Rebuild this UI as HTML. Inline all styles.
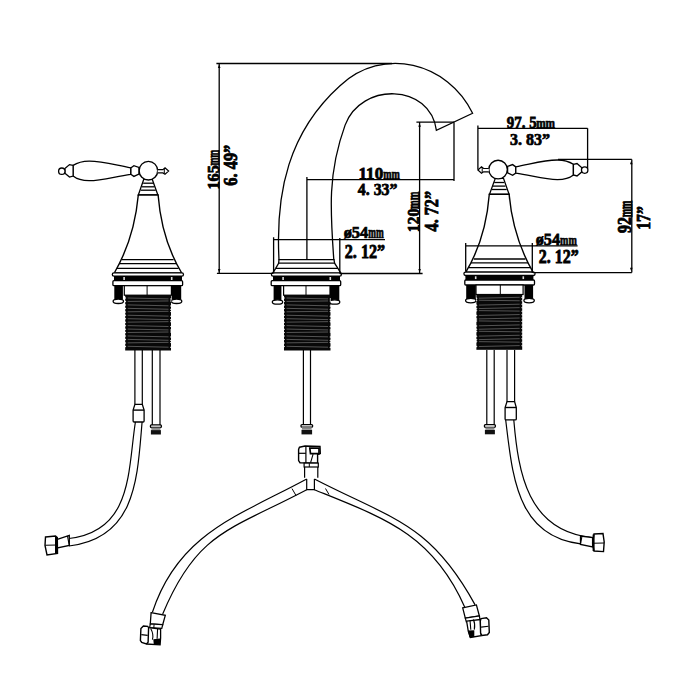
<!DOCTYPE html>
<html><head><meta charset="utf-8"><style>
html,body{margin:0;padding:0;background:#fff;}
svg{display:block;opacity:0.999;}
text{font-family:"Liberation Serif",serif;font-weight:bold;fill:#000;}
</style></head><body>
<svg width="700" height="700" viewBox="0 0 700 700">
<rect width="700" height="700" fill="#fff"/>

<path d="M143.9,179 L152.1,179 L157.9,195 L138.3,195 Z" fill="#fff" stroke="#000" stroke-width="1.3"/>
<line x1="143.2" y1="183.2" x2="153.2" y2="183.2" stroke="#000" stroke-width="1.3"/>
<line x1="142" y1="186.8" x2="154.4" y2="186.8" stroke="#000" stroke-width="1.3"/>
<line x1="140.7" y1="190.2" x2="155.7" y2="190.2" stroke="#000" stroke-width="1.3"/>
<path d="M138.3,195 C135.5,226 127,251 114.3,273 L181.7,273 C168.5,251 160.5,226 158.1,195 Z" fill="#fff" stroke="#000" stroke-width="1.4"/>
<line x1="122" y1="259.7" x2="173.6" y2="259.7" stroke="#000" stroke-width="1.3"/>
<line x1="119.3" y1="263.6" x2="176.4" y2="263.6" stroke="#000" stroke-width="1.3"/>
<line x1="117" y1="268.3" x2="178.6" y2="268.3" stroke="#000" stroke-width="1.3"/>
<rect x="112.3" y="272.8" width="71.2" height="3.4" rx="1.7" fill="#fff" stroke="#000" stroke-width="1.3"/>
<rect x="114" y="276" width="68" height="4.8" fill="#000"/>
<rect x="123.3" y="277" width="1.6" height="3" fill="#ddd"/>
<rect x="170.9" y="277" width="1.6" height="3" fill="#ddd"/>
<rect x="112.9" y="280.7" width="69.7" height="5" rx="1" fill="#fff" stroke="#000" stroke-width="1.3"/>
<rect x="114.3" y="285.7" width="8.6" height="15.5" fill="#000"/>
<rect x="171.6" y="285.7" width="9.6" height="15.5" fill="#000"/>
<ellipse cx="118.3" cy="301.3" rx="5.2" ry="2.2" fill="#fff" stroke="#000" stroke-width="1.3"/>
<ellipse cx="176.6" cy="301.3" rx="5.2" ry="2.2" fill="#fff" stroke="#000" stroke-width="1.3"/>
<rect x="124.3" y="285.7" width="47.1" height="9.5" fill="#fff" stroke="#000" stroke-width="1.2"/>
<line x1="147.1" y1="285.7" x2="147.1" y2="295" stroke="#000" stroke-width="1"/>
<rect x="125.2" y="295" width="45.8" height="55.5" fill="#080808"/><line x1="127.7" y1="298.00" x2="168.5" y2="298.90" stroke="#5c5c5c" stroke-width="0.9"/><path d="M124.9,297.10 L126.3,298.10 L124.9,299.10 Z" fill="#fff"/><path d="M171.3,298.00 L169.9,299.00 L171.3,300.00 Z" fill="#fff"/><line x1="127.7" y1="301.45" x2="168.5" y2="300.95" stroke="#5c5c5c" stroke-width="0.9"/><path d="M124.9,300.55 L126.3,301.55 L124.9,302.55 Z" fill="#fff"/><path d="M171.3,300.05 L169.9,301.05 L171.3,302.05 Z" fill="#fff"/><line x1="127.7" y1="304.90" x2="168.5" y2="305.80" stroke="#5c5c5c" stroke-width="0.9"/><path d="M124.9,304.00 L126.3,305.00 L124.9,306.00 Z" fill="#fff"/><path d="M171.3,304.90 L169.9,305.90 L171.3,306.90 Z" fill="#fff"/><line x1="127.7" y1="308.35" x2="168.5" y2="309.25" stroke="#5c5c5c" stroke-width="0.9"/><path d="M124.9,307.45 L126.3,308.45 L124.9,309.45 Z" fill="#fff"/><path d="M171.3,308.35 L169.9,309.35 L171.3,310.35 Z" fill="#fff"/><line x1="127.7" y1="311.80" x2="168.5" y2="311.30" stroke="#5c5c5c" stroke-width="0.9"/><path d="M124.9,310.90 L126.3,311.90 L124.9,312.90 Z" fill="#fff"/><path d="M171.3,310.40 L169.9,311.40 L171.3,312.40 Z" fill="#fff"/><line x1="127.7" y1="315.25" x2="168.5" y2="316.15" stroke="#5c5c5c" stroke-width="0.9"/><path d="M124.9,314.35 L126.3,315.35 L124.9,316.35 Z" fill="#fff"/><path d="M171.3,315.25 L169.9,316.25 L171.3,317.25 Z" fill="#fff"/><line x1="127.7" y1="318.70" x2="168.5" y2="319.60" stroke="#5c5c5c" stroke-width="0.9"/><path d="M124.9,317.80 L126.3,318.80 L124.9,319.80 Z" fill="#fff"/><path d="M171.3,318.70 L169.9,319.70 L171.3,320.70 Z" fill="#fff"/><line x1="127.7" y1="322.15" x2="168.5" y2="321.65" stroke="#5c5c5c" stroke-width="0.9"/><path d="M124.9,321.25 L126.3,322.25 L124.9,323.25 Z" fill="#fff"/><path d="M171.3,320.75 L169.9,321.75 L171.3,322.75 Z" fill="#fff"/><line x1="127.7" y1="325.60" x2="168.5" y2="326.50" stroke="#5c5c5c" stroke-width="0.9"/><path d="M124.9,324.70 L126.3,325.70 L124.9,326.70 Z" fill="#fff"/><path d="M171.3,325.60 L169.9,326.60 L171.3,327.60 Z" fill="#fff"/><line x1="127.7" y1="329.05" x2="168.5" y2="329.95" stroke="#5c5c5c" stroke-width="0.9"/><path d="M124.9,328.15 L126.3,329.15 L124.9,330.15 Z" fill="#fff"/><path d="M171.3,329.05 L169.9,330.05 L171.3,331.05 Z" fill="#fff"/><line x1="127.7" y1="332.50" x2="168.5" y2="332.00" stroke="#5c5c5c" stroke-width="0.9"/><path d="M124.9,331.60 L126.3,332.60 L124.9,333.60 Z" fill="#fff"/><path d="M171.3,331.10 L169.9,332.10 L171.3,333.10 Z" fill="#fff"/><line x1="127.7" y1="335.95" x2="168.5" y2="336.85" stroke="#5c5c5c" stroke-width="0.9"/><path d="M124.9,335.05 L126.3,336.05 L124.9,337.05 Z" fill="#fff"/><path d="M171.3,335.95 L169.9,336.95 L171.3,337.95 Z" fill="#fff"/><line x1="127.7" y1="339.40" x2="168.5" y2="340.30" stroke="#5c5c5c" stroke-width="0.9"/><path d="M124.9,338.50 L126.3,339.50 L124.9,340.50 Z" fill="#fff"/><path d="M171.3,339.40 L169.9,340.40 L171.3,341.40 Z" fill="#fff"/><line x1="127.7" y1="342.85" x2="168.5" y2="342.35" stroke="#5c5c5c" stroke-width="0.9"/><path d="M124.9,341.95 L126.3,342.95 L124.9,343.95 Z" fill="#fff"/><path d="M171.3,341.45 L169.9,342.45 L171.3,343.45 Z" fill="#fff"/><line x1="127.7" y1="346.30" x2="168.5" y2="347.20" stroke="#5c5c5c" stroke-width="0.9"/><path d="M124.9,345.40 L126.3,346.40 L124.9,347.40 Z" fill="#fff"/><path d="M171.3,346.30 L169.9,347.30 L171.3,348.30 Z" fill="#fff"/>
<circle cx="148.4" cy="170.7" r="9.3" fill="#fff" stroke="#000" stroke-width="1.4"/>
<path d="M157.7,169.6 L162.9,169.6 L165,167.9 L168.6,171.1 L165,174.3 L162.9,172.9 L157.7,172.9" fill="#fff" stroke="#000" stroke-width="1.2"/>
<line x1="164.3" y1="168.5" x2="164.3" y2="173.7" stroke="#000" stroke-width="1"/>
<path d="M130.7,168 L133.9,165.7 L138.9,167.5 L138.9,174 L133.9,176.4 L130.7,174.2 Z" fill="#fff" stroke="#000" stroke-width="1.3"/>
<path d="M130.7,167.9 C115,165 102,161 89.1,161.1 C81,161.2 76,163.5 73.1,165.4 L73.1,176.1 C76,178.5 81,180.7 89.1,180.7 C102,180.7 115,176.5 130.7,174.3 Z" fill="#fff" stroke="#000" stroke-width="1.3"/>
<path d="M73.1,165.4 L69.5,164.6 L64.9,168.6 L64.9,173.2 L69.5,177.1 L73.1,176.1 Z" fill="#fff" stroke="#000" stroke-width="1.3"/>
<circle cx="61.8" cy="171.2" r="3.2" fill="#fff" stroke="#000" stroke-width="1.3"/>

<g transform="translate(647.4,-0.7) scale(-1,1)">
<path d="M143.9,179 L152.1,179 L157.9,195 L138.3,195 Z" fill="#fff" stroke="#000" stroke-width="1.3"/>
<line x1="143.2" y1="183.2" x2="153.2" y2="183.2" stroke="#000" stroke-width="1.3"/>
<line x1="142" y1="186.8" x2="154.4" y2="186.8" stroke="#000" stroke-width="1.3"/>
<line x1="140.7" y1="190.2" x2="155.7" y2="190.2" stroke="#000" stroke-width="1.3"/>
<path d="M138.3,195 C135.5,226 127,251 114.3,273 L181.7,273 C168.5,251 160.5,226 158.1,195 Z" fill="#fff" stroke="#000" stroke-width="1.4"/>
<line x1="122" y1="259.7" x2="173.6" y2="259.7" stroke="#000" stroke-width="1.3"/>
<line x1="119.3" y1="263.6" x2="176.4" y2="263.6" stroke="#000" stroke-width="1.3"/>
<line x1="117" y1="268.3" x2="178.6" y2="268.3" stroke="#000" stroke-width="1.3"/>
<rect x="112.3" y="272.8" width="71.2" height="3.4" rx="1.7" fill="#fff" stroke="#000" stroke-width="1.3"/>
<rect x="114" y="276" width="68" height="4.8" fill="#000"/>
<rect x="123.3" y="277" width="1.6" height="3" fill="#ddd"/>
<rect x="170.9" y="277" width="1.6" height="3" fill="#ddd"/>
<rect x="112.9" y="280.7" width="69.7" height="5" rx="1" fill="#fff" stroke="#000" stroke-width="1.3"/>
<rect x="114.3" y="285.7" width="8.6" height="15.5" fill="#000"/>
<rect x="171.6" y="285.7" width="9.6" height="15.5" fill="#000"/>
<ellipse cx="118.3" cy="301.3" rx="5.2" ry="2.2" fill="#fff" stroke="#000" stroke-width="1.3"/>
<ellipse cx="176.6" cy="301.3" rx="5.2" ry="2.2" fill="#fff" stroke="#000" stroke-width="1.3"/>
<rect x="124.3" y="285.7" width="47.1" height="9.5" fill="#fff" stroke="#000" stroke-width="1.2"/>
<line x1="147.1" y1="285.7" x2="147.1" y2="295" stroke="#000" stroke-width="1"/>
<rect x="125.2" y="295" width="45.8" height="55.5" fill="#080808"/><line x1="127.7" y1="298.00" x2="168.5" y2="298.90" stroke="#5c5c5c" stroke-width="0.9"/><path d="M124.9,297.10 L126.3,298.10 L124.9,299.10 Z" fill="#fff"/><path d="M171.3,298.00 L169.9,299.00 L171.3,300.00 Z" fill="#fff"/><line x1="127.7" y1="301.45" x2="168.5" y2="300.95" stroke="#5c5c5c" stroke-width="0.9"/><path d="M124.9,300.55 L126.3,301.55 L124.9,302.55 Z" fill="#fff"/><path d="M171.3,300.05 L169.9,301.05 L171.3,302.05 Z" fill="#fff"/><line x1="127.7" y1="304.90" x2="168.5" y2="305.80" stroke="#5c5c5c" stroke-width="0.9"/><path d="M124.9,304.00 L126.3,305.00 L124.9,306.00 Z" fill="#fff"/><path d="M171.3,304.90 L169.9,305.90 L171.3,306.90 Z" fill="#fff"/><line x1="127.7" y1="308.35" x2="168.5" y2="309.25" stroke="#5c5c5c" stroke-width="0.9"/><path d="M124.9,307.45 L126.3,308.45 L124.9,309.45 Z" fill="#fff"/><path d="M171.3,308.35 L169.9,309.35 L171.3,310.35 Z" fill="#fff"/><line x1="127.7" y1="311.80" x2="168.5" y2="311.30" stroke="#5c5c5c" stroke-width="0.9"/><path d="M124.9,310.90 L126.3,311.90 L124.9,312.90 Z" fill="#fff"/><path d="M171.3,310.40 L169.9,311.40 L171.3,312.40 Z" fill="#fff"/><line x1="127.7" y1="315.25" x2="168.5" y2="316.15" stroke="#5c5c5c" stroke-width="0.9"/><path d="M124.9,314.35 L126.3,315.35 L124.9,316.35 Z" fill="#fff"/><path d="M171.3,315.25 L169.9,316.25 L171.3,317.25 Z" fill="#fff"/><line x1="127.7" y1="318.70" x2="168.5" y2="319.60" stroke="#5c5c5c" stroke-width="0.9"/><path d="M124.9,317.80 L126.3,318.80 L124.9,319.80 Z" fill="#fff"/><path d="M171.3,318.70 L169.9,319.70 L171.3,320.70 Z" fill="#fff"/><line x1="127.7" y1="322.15" x2="168.5" y2="321.65" stroke="#5c5c5c" stroke-width="0.9"/><path d="M124.9,321.25 L126.3,322.25 L124.9,323.25 Z" fill="#fff"/><path d="M171.3,320.75 L169.9,321.75 L171.3,322.75 Z" fill="#fff"/><line x1="127.7" y1="325.60" x2="168.5" y2="326.50" stroke="#5c5c5c" stroke-width="0.9"/><path d="M124.9,324.70 L126.3,325.70 L124.9,326.70 Z" fill="#fff"/><path d="M171.3,325.60 L169.9,326.60 L171.3,327.60 Z" fill="#fff"/><line x1="127.7" y1="329.05" x2="168.5" y2="329.95" stroke="#5c5c5c" stroke-width="0.9"/><path d="M124.9,328.15 L126.3,329.15 L124.9,330.15 Z" fill="#fff"/><path d="M171.3,329.05 L169.9,330.05 L171.3,331.05 Z" fill="#fff"/><line x1="127.7" y1="332.50" x2="168.5" y2="332.00" stroke="#5c5c5c" stroke-width="0.9"/><path d="M124.9,331.60 L126.3,332.60 L124.9,333.60 Z" fill="#fff"/><path d="M171.3,331.10 L169.9,332.10 L171.3,333.10 Z" fill="#fff"/><line x1="127.7" y1="335.95" x2="168.5" y2="336.85" stroke="#5c5c5c" stroke-width="0.9"/><path d="M124.9,335.05 L126.3,336.05 L124.9,337.05 Z" fill="#fff"/><path d="M171.3,335.95 L169.9,336.95 L171.3,337.95 Z" fill="#fff"/><line x1="127.7" y1="339.40" x2="168.5" y2="340.30" stroke="#5c5c5c" stroke-width="0.9"/><path d="M124.9,338.50 L126.3,339.50 L124.9,340.50 Z" fill="#fff"/><path d="M171.3,339.40 L169.9,340.40 L171.3,341.40 Z" fill="#fff"/><line x1="127.7" y1="342.85" x2="168.5" y2="342.35" stroke="#5c5c5c" stroke-width="0.9"/><path d="M124.9,341.95 L126.3,342.95 L124.9,343.95 Z" fill="#fff"/><path d="M171.3,341.45 L169.9,342.45 L171.3,343.45 Z" fill="#fff"/><line x1="127.7" y1="346.30" x2="168.5" y2="347.20" stroke="#5c5c5c" stroke-width="0.9"/><path d="M124.9,345.40 L126.3,346.40 L124.9,347.40 Z" fill="#fff"/><path d="M171.3,346.30 L169.9,347.30 L171.3,348.30 Z" fill="#fff"/></g>
<g transform="translate(646.5,-1.1) scale(-1,1)">
<circle cx="148.4" cy="170.7" r="9.3" fill="#fff" stroke="#000" stroke-width="1.4"/>
<path d="M157.7,169.6 L162.9,169.6 L165,167.9 L168.6,171.1 L165,174.3 L162.9,172.9 L157.7,172.9" fill="#fff" stroke="#000" stroke-width="1.2"/>
<line x1="164.3" y1="168.5" x2="164.3" y2="173.7" stroke="#000" stroke-width="1"/>
<path d="M130.7,168 L133.9,165.7 L138.9,167.5 L138.9,174 L133.9,176.4 L130.7,174.2 Z" fill="#fff" stroke="#000" stroke-width="1.3"/>
<path d="M130.7,167.9 C115,165 102,161 89.1,161.1 C81,161.2 76,163.5 73.1,165.4 L73.1,176.1 C76,178.5 81,180.7 89.1,180.7 C102,180.7 115,176.5 130.7,174.3 Z" fill="#fff" stroke="#000" stroke-width="1.3"/>
<path d="M73.1,165.4 L69.5,164.6 L64.9,168.6 L64.9,173.2 L69.5,177.1 L73.1,176.1 Z" fill="#fff" stroke="#000" stroke-width="1.3"/>
<circle cx="61.8" cy="171.2" r="3.2" fill="#fff" stroke="#000" stroke-width="1.3"/>
</g>
<path d="M134.9,350 L134.9,404.3 M142.3,350 L142.3,404.3" stroke="#000" stroke-width="1.2" fill="none"/><path d="M134.9,404.3 L142.3,404.3 L144.1,410.1 L144.1,421 Q144.1,422 143.1,422 L134.1,422 Q133.1,422 133.1,421 L133.1,410.1 Z" fill="#fff" stroke="#000" stroke-width="1.3"/><path d="M133.1,410.1 L144.1,410.1" stroke="#000" stroke-width="1.4" fill="none"/><path d="M152.3,350 L152.3,424.9 M160.0,350 L160.0,424.9" stroke="#000" stroke-width="1.2" fill="none"/><rect x="150.4" y="424.9" width="11.0" height="2.6" rx="1" fill="#fff" stroke="#000" stroke-width="1.3"/><rect x="151.4" y="427.5" width="9.0" height="2.4" fill="#888"/><rect x="150.9" y="430.09999999999997" width="10.0" height="4.4" fill="#111"/>
<path d="M507.0,350 L507.0,401.6 M514.6,350 L514.6,401.6" stroke="#000" stroke-width="1.2" fill="none"/><path d="M507.0,401.6 L514.6,401.6 L516.3,407.5 L516.3,418.9 Q516.3,419.9 515.3,419.9 L506.1,419.9 Q505.1,419.9 505.1,418.9 L505.1,407.5 Z" fill="#fff" stroke="#000" stroke-width="1.3"/><path d="M505.1,407.5 L516.3,407.5" stroke="#000" stroke-width="1.4" fill="none"/><path d="M486.8,350 L486.8,424.7 M494.2,350 L494.2,424.7" stroke="#000" stroke-width="1.2" fill="none"/><rect x="484.4" y="424.7" width="11.0" height="2.6" rx="1" fill="#fff" stroke="#000" stroke-width="1.3"/><rect x="485.4" y="427.3" width="9.0" height="2.4" fill="#888"/><rect x="484.9" y="429.9" width="10.0" height="4.4" fill="#111"/>

<path d="M279,259.6 C275.4,191.9 288.8,131.9 340,85.7 C382.8,45.5 448.1,62.6 472.6,113.3 L436.4,130.4 C430.2,83 360.8,82 345.1,125.1 C327.7,172.9 330.2,210 333.8,259.6 Z" fill="#fff" stroke="#000" stroke-width="1.3"/>
<path d="M279,259.6 L334,259.6 L334.6,263.2 L337.9,268.3 L341,273.3 L272.5,273.3 L275.7,268.3 L278.6,263.2 Z" fill="#fff" stroke="#000" stroke-width="1.3"/>
<line x1="278.6" y1="263.2" x2="334.6" y2="263.2" stroke="#000" stroke-width="1.2"/>
<line x1="275.7" y1="268.3" x2="337.9" y2="268.3" stroke="#000" stroke-width="1.2"/>
<rect x="271.4" y="272.8" width="70" height="3.4" rx="1.7" fill="#fff" stroke="#000" stroke-width="1.3"/>
<rect x="273" y="276" width="67" height="4.8" fill="#000"/>
<rect x="282.3" y="277" width="1.6" height="3" fill="#ddd"/>
<rect x="329.5" y="277" width="1.6" height="3" fill="#ddd"/>
<rect x="271.2" y="280.7" width="69.5" height="5" rx="1" fill="#fff" stroke="#000" stroke-width="1.3"/>
<rect x="273.6" y="285.7" width="7.8" height="16" fill="#000"/>
<rect x="330" y="285.7" width="9.3" height="16" fill="#000"/>
<ellipse cx="277.5" cy="302" rx="5.2" ry="2.2" fill="#fff" stroke="#000" stroke-width="1.3"/>
<ellipse cx="334.6" cy="302" rx="5.2" ry="2.2" fill="#fff" stroke="#000" stroke-width="1.3"/>
<rect x="283.6" y="285.7" width="46.4" height="9.5" fill="#fff" stroke="#000" stroke-width="1.2"/>
<line x1="306" y1="285.7" x2="306" y2="295" stroke="#000" stroke-width="1"/>
<rect x="284" y="295" width="46.5" height="55.5" fill="#080808"/><line x1="286.5" y1="298.00" x2="328.0" y2="298.90" stroke="#5c5c5c" stroke-width="0.9"/><path d="M283.7,297.10 L285.1,298.10 L283.7,299.10 Z" fill="#fff"/><path d="M330.8,298.00 L329.4,299.00 L330.8,300.00 Z" fill="#fff"/><line x1="286.5" y1="301.45" x2="328.0" y2="300.95" stroke="#5c5c5c" stroke-width="0.9"/><path d="M283.7,300.55 L285.1,301.55 L283.7,302.55 Z" fill="#fff"/><path d="M330.8,300.05 L329.4,301.05 L330.8,302.05 Z" fill="#fff"/><line x1="286.5" y1="304.90" x2="328.0" y2="305.80" stroke="#5c5c5c" stroke-width="0.9"/><path d="M283.7,304.00 L285.1,305.00 L283.7,306.00 Z" fill="#fff"/><path d="M330.8,304.90 L329.4,305.90 L330.8,306.90 Z" fill="#fff"/><line x1="286.5" y1="308.35" x2="328.0" y2="309.25" stroke="#5c5c5c" stroke-width="0.9"/><path d="M283.7,307.45 L285.1,308.45 L283.7,309.45 Z" fill="#fff"/><path d="M330.8,308.35 L329.4,309.35 L330.8,310.35 Z" fill="#fff"/><line x1="286.5" y1="311.80" x2="328.0" y2="311.30" stroke="#5c5c5c" stroke-width="0.9"/><path d="M283.7,310.90 L285.1,311.90 L283.7,312.90 Z" fill="#fff"/><path d="M330.8,310.40 L329.4,311.40 L330.8,312.40 Z" fill="#fff"/><line x1="286.5" y1="315.25" x2="328.0" y2="316.15" stroke="#5c5c5c" stroke-width="0.9"/><path d="M283.7,314.35 L285.1,315.35 L283.7,316.35 Z" fill="#fff"/><path d="M330.8,315.25 L329.4,316.25 L330.8,317.25 Z" fill="#fff"/><line x1="286.5" y1="318.70" x2="328.0" y2="319.60" stroke="#5c5c5c" stroke-width="0.9"/><path d="M283.7,317.80 L285.1,318.80 L283.7,319.80 Z" fill="#fff"/><path d="M330.8,318.70 L329.4,319.70 L330.8,320.70 Z" fill="#fff"/><line x1="286.5" y1="322.15" x2="328.0" y2="321.65" stroke="#5c5c5c" stroke-width="0.9"/><path d="M283.7,321.25 L285.1,322.25 L283.7,323.25 Z" fill="#fff"/><path d="M330.8,320.75 L329.4,321.75 L330.8,322.75 Z" fill="#fff"/><line x1="286.5" y1="325.60" x2="328.0" y2="326.50" stroke="#5c5c5c" stroke-width="0.9"/><path d="M283.7,324.70 L285.1,325.70 L283.7,326.70 Z" fill="#fff"/><path d="M330.8,325.60 L329.4,326.60 L330.8,327.60 Z" fill="#fff"/><line x1="286.5" y1="329.05" x2="328.0" y2="329.95" stroke="#5c5c5c" stroke-width="0.9"/><path d="M283.7,328.15 L285.1,329.15 L283.7,330.15 Z" fill="#fff"/><path d="M330.8,329.05 L329.4,330.05 L330.8,331.05 Z" fill="#fff"/><line x1="286.5" y1="332.50" x2="328.0" y2="332.00" stroke="#5c5c5c" stroke-width="0.9"/><path d="M283.7,331.60 L285.1,332.60 L283.7,333.60 Z" fill="#fff"/><path d="M330.8,331.10 L329.4,332.10 L330.8,333.10 Z" fill="#fff"/><line x1="286.5" y1="335.95" x2="328.0" y2="336.85" stroke="#5c5c5c" stroke-width="0.9"/><path d="M283.7,335.05 L285.1,336.05 L283.7,337.05 Z" fill="#fff"/><path d="M330.8,335.95 L329.4,336.95 L330.8,337.95 Z" fill="#fff"/><line x1="286.5" y1="339.40" x2="328.0" y2="340.30" stroke="#5c5c5c" stroke-width="0.9"/><path d="M283.7,338.50 L285.1,339.50 L283.7,340.50 Z" fill="#fff"/><path d="M330.8,339.40 L329.4,340.40 L330.8,341.40 Z" fill="#fff"/><line x1="286.5" y1="342.85" x2="328.0" y2="342.35" stroke="#5c5c5c" stroke-width="0.9"/><path d="M283.7,341.95 L285.1,342.95 L283.7,343.95 Z" fill="#fff"/><path d="M330.8,341.45 L329.4,342.45 L330.8,343.45 Z" fill="#fff"/><line x1="286.5" y1="346.30" x2="328.0" y2="347.20" stroke="#5c5c5c" stroke-width="0.9"/><path d="M283.7,345.40 L285.1,346.40 L283.7,347.40 Z" fill="#fff"/><path d="M330.8,346.30 L329.4,347.30 L330.8,348.30 Z" fill="#fff"/><path d="M303.4,350 L303.4,424.6 M310.5,350 L310.5,424.6" stroke="#000" stroke-width="1.2" fill="none"/>
<rect x="301" y="424.6" width="11.6" height="2.6" rx="1" fill="#fff" stroke="#000" stroke-width="1.3"/>
<rect x="302" y="427.2" width="9.6" height="2.3" fill="#888"/>
<rect x="301.5" y="429.8" width="10.6" height="4.6" fill="#111"/>


<path d="M299.4,447.3 L305,446 L320,446.4 L320.3,453.5 L317.6,454.5 L317.6,463.1 L300,462.7 L298.6,460.6 L298.6,449.4 Z" fill="#fff" stroke="#000" stroke-width="1.4"/>
<line x1="298.6" y1="453.3" x2="305.9" y2="453.3" stroke="#000" stroke-width="1.2"/>
<line x1="305.9" y1="446.5" x2="305.9" y2="463" stroke="#000" stroke-width="1.2"/>
<path d="M309.8,448.2 L319,448.2 L319,453.6 L310.5,453.6 Z" fill="#fff" stroke="#000" stroke-width="1.7"/>
<path d="M313.1,454.1 L310.6,462.7" stroke="#000" stroke-width="1.1"/>
<rect x="304.1" y="463.1" width="14.2" height="3.9" fill="#fff" stroke="#000" stroke-width="1.2"/>
<path d="M309.3,463.1 L309.3,467" stroke="#000" stroke-width="1"/>
<path d="M304.6,467 L304.6,477.7 M317.8,467 L317.8,477.7" stroke="#000" stroke-width="1.2" fill="none"/><path d="M306.7,479 L306.7,489.7 L314.4,489.7 L314.4,479" stroke="#000" stroke-width="1.2" fill="none"/><path d="M292,488.6 L296,495.5 M325.5,488.5 L329,494.5" stroke="#000" stroke-width="1.0" fill="none"/>
<path d="M306.7,479.0 C239.4,515.5 178.3,532.9 152.4,612.3" stroke="#000" stroke-width="1.2" fill="none"/>
<path d="M306.7,489.7 C230.1,530.2 197.1,531.4 162.7,614.0" stroke="#000" stroke-width="1.2" fill="none"/>
<path d="M314.4,479.0 C392.9,519.5 430.3,523.1 475.1,604.9" stroke="#000" stroke-width="1.2" fill="none"/>
<path d="M314.4,489.7 C385.9,518.6 432.9,534.6 464.9,607.4" stroke="#000" stroke-width="1.2" fill="none"/>

<path d="M151.1,612.7 L165.3,615.3 L162.7,624.7 L150.3,623.8 Z" fill="#fff" stroke="#000" stroke-width="1.3"/>
<path d="M150.3,623.8 L162.7,624.7 L161.8,628.4 L149.6,627.6 Z" fill="#fff" stroke="#000" stroke-width="1.2"/>
<path d="M154.1,624.2 L153.8,628" stroke="#000" stroke-width="1"/>
<path d="M148.6,627.7 L160.6,629 L160.6,638 L160.1,644.8 L146.4,644" fill="#fff" stroke="#000" stroke-width="1.3"/>
<path d="M150.7,628.6 Q154,634.6 152.4,639.7 M157.6,628.6 L157.1,638.8" fill="none" stroke="#000" stroke-width="1.1"/>
<path d="M153.3,639.3 L160.1,638.6 L160.1,644.8 L153.8,644.5 Z" fill="#000"/>
<path d="M143.4,626 L147.7,626.4 L148.6,627.7 L148.1,642.3 L146.4,644 L141.7,642.3 L140.4,640.6 L140.9,628.6 Z" fill="#fff" stroke="#000" stroke-width="1.4"/>
<line x1="141.3" y1="634.6" x2="147.7" y2="635.4" stroke="#000" stroke-width="1.1"/>


<path d="M462.7,607.8 L476.4,604.9 L479.4,616 L465.3,618.1 Z" fill="#fff" stroke="#000" stroke-width="1.3"/>
<path d="M465.3,618.1 L479.4,616 L480,620 L466.3,621.8 Z" fill="#fff" stroke="#000" stroke-width="1.2"/>
<path d="M466.6,621.1 L480.3,619.5 L481.1,635.7 L470.4,637.4 L468.3,631.4 Z" fill="#fff" stroke="#000" stroke-width="1.3"/>
<path d="M473.4,619.4 Q475.5,624 474.3,629.7 M470,620.3 L470.8,629.7" fill="none" stroke="#000" stroke-width="1.1"/>
<path d="M467.9,630.6 L474.3,630.2 L474.3,637 L469.5,637.4 Z" fill="#000"/>
<path d="M481,618.6 L486.5,617.8 L488.8,620 L489.3,632.5 L487.5,634.8 L482,635.5 L480.6,633 L480.3,621 Z" fill="#fff" stroke="#000" stroke-width="1.4"/>
<line x1="481.1" y1="627.1" x2="488.5" y2="626.3" stroke="#000" stroke-width="1.1"/>

<path d="M135.4,422.0 C127.7,471.1 132.7,531.0 69.0,538.5" stroke="#000" stroke-width="1.2" fill="none"/>
<path d="M142.1,422.0 C137.3,476.5 137.0,537.9 69.0,546.0" stroke="#000" stroke-width="1.2" fill="none"/>

<path d="M57.3,539.4 L69.3,535.5 L69.3,545.5 L57.3,548 Z" fill="#fff" stroke="#000" stroke-width="1.3"/>
<line x1="67.5" y1="535.8" x2="69.3" y2="545.5" stroke="#000" stroke-width="1.1"/>
<path d="M45.5,537 L55.5,536 L57.3,537.5 L57.5,553.5 L47,554.9 L45,545.5 Z" fill="#fff" stroke="#000" stroke-width="1.4"/>
<line x1="45.2" y1="545.3" x2="57.3" y2="545" stroke="#000" stroke-width="1.1"/>
<line x1="56" y1="537" x2="56" y2="553.5" stroke="#000" stroke-width="2"/>

<path d="M505.7,420.0 C512.8,477.8 516.8,543.3 592.0,544.6" stroke="#000" stroke-width="1.2" fill="none"/>
<path d="M513.8,420.0 C518.3,472.8 527.4,530.9 592.0,537.5" stroke="#000" stroke-width="1.2" fill="none"/>

<path d="M580.5,536 L592.6,537.5 L592.6,547 L580.5,544.5 Z" fill="#fff" stroke="#000" stroke-width="1.3"/>
<line x1="582" y1="536" x2="580.4" y2="544.5" stroke="#000" stroke-width="1.1"/>
<path d="M594,534 L603,533.6 L604.2,542 L603.5,551.6 L594,551 L592.6,543 Z" fill="#fff" stroke="#000" stroke-width="1.4"/>
<line x1="592.8" y1="543.3" x2="604" y2="543" stroke="#000" stroke-width="1.1"/>
<line x1="593.6" y1="534.5" x2="593.6" y2="551" stroke="#000" stroke-width="2"/>


<path d="M216.4,63.5 L392,63.5 M219.2,63.5 L219.2,273.4 M216.9,273.4 L273,273.4" stroke="#000" stroke-width="1.3" fill="none"/>
<path d="M306.9,177.1 L306.9,259.6 M306.9,179.6 L454,179.6 M454,122.2 L454,181" stroke="#000" stroke-width="1.3" fill="none"/>
<path d="M416.4,122.2 L454,122.2 M419.6,122.2 L419.6,273.5 M339.8,273.5 L422.6,273.5" stroke="#000" stroke-width="1.3" fill="none"/>
<path d="M273.6,237.3 L273.6,273.4 M339.8,238 L339.8,273.5 M273.6,239.6 L385,239.6" stroke="#000" stroke-width="1.3" fill="none"/>
<path d="M465.7,243 L465.7,271.4 M532.3,243 L532.3,273 M465.7,245.8 L577.6,245.8" stroke="#000" stroke-width="1.3" fill="none"/>
<path d="M477.9,128.3 L587.6,128.3 M477.9,125.6 L477.9,169.5 M587.6,128.3 L587.6,168.4" stroke="#000" stroke-width="1.3" fill="none"/>
<path d="M558,159.4 L631.8,159.4 M631.8,159.5 L631.8,272.6 M533,272.6 L631.8,272.6" stroke="#000" stroke-width="1.3" fill="none"/>

<path d="M219.2,64.5 L217.89999999999998,68.0 L220.5,68.0 Z" fill="#000"/>
<path d="M219.2,272.4 L217.89999999999998,268.9 L220.5,268.9 Z" fill="#000"/>
<path d="M419.6,123.2 L418.3,126.7 L420.90000000000003,126.7 Z" fill="#000"/>
<path d="M419.6,272.5 L418.3,269.0 L420.90000000000003,269.0 Z" fill="#000"/>
<path d="M631.3,160.7 L630.0,164.2 L632.5999999999999,164.2 Z" fill="#000"/>
<path d="M631.3,271.2 L630.0,267.7 L632.5999999999999,267.7 Z" fill="#000"/>
<text transform="matrix(0.17068,0,0,0.17059,358.535,178.559)" font-size="100" stroke="#000" stroke-width="4.5">110</text>
<text transform="matrix(0.10000,0,0,0.15532,383.200,178.900)" font-size="100" stroke="#000" stroke-width="4.5">mm</text>
<text transform="matrix(0.15861,0,0,0.16716,357.841,195.266)" font-size="100" stroke="#000" stroke-width="4.5">4. 33”</text>
<text transform="matrix(0.14870,0,0,0.17313,506.854,127.654)" font-size="100" stroke="#000" stroke-width="4.5">97. 5</text>
<text transform="matrix(0.11358,0,0,0.13617,536.159,128.000)" font-size="100" stroke="#000" stroke-width="4.5">mm</text>
<text transform="matrix(0.16017,0,0,0.16567,510.059,144.769)" font-size="100" stroke="#000" stroke-width="4.5">3. 83”</text>
<text transform="matrix(0.16389,0,0,0.16522,343.644,238.439)" font-size="100" stroke="#000" stroke-width="4.5">ø54</text>
<text transform="matrix(0.09321,0,0,0.15957,368.220,238.400)" font-size="100" stroke="#000" stroke-width="4.5">mm</text>
<text transform="matrix(0.16141,0,0,0.19701,344.754,258.203)" font-size="100" stroke="#000" stroke-width="4.5">2. 12”</text>
<text transform="matrix(0.16181,0,0,0.16957,535.753,244.622)" font-size="100" stroke="#000" stroke-width="4.5">ø54</text>
<text transform="matrix(0.10062,0,0,0.15319,560.098,244.600)" font-size="100" stroke="#000" stroke-width="4.5">mm</text>
<text transform="matrix(0.16017,0,0,0.19851,538.759,262.501)" font-size="100" stroke="#000" stroke-width="4.5">2. 12”</text>
<text transform="matrix(0,-0.16232,0.16765,0,218.565,189.599)" font-size="100" stroke="#000" stroke-width="4.5">165</text>
<text transform="matrix(0,-0.09383,0.16809,0,218.900,165.481)" font-size="100" stroke="#000" stroke-width="4.5">mm</text>
<text transform="matrix(0,-0.16405,0.19851,0,236.503,185.692)" font-size="100" stroke="#000" stroke-width="4.5">6. 49”</text>
<text transform="matrix(0,-0.15652,0.17206,0,418.856,232.252)" font-size="100" stroke="#000" stroke-width="4.5">120</text>
<text transform="matrix(0,-0.10556,0.16596,0,419.200,209.117)" font-size="100" stroke="#000" stroke-width="4.5">mm</text>
<text transform="matrix(0,-0.16230,0.19091,0,438.309,231.462)" font-size="100" stroke="#000" stroke-width="4.5">4. 72”</text>
<text transform="matrix(0,-0.15914,0.18358,0,631.133,232.877)" font-size="100" stroke="#000" stroke-width="4.5">92</text>
<text transform="matrix(0,-0.10000,0.18085,0,631.500,217.300)" font-size="100" stroke="#000" stroke-width="4.5">mm</text>
<text transform="matrix(0,-0.15766,0.18182,0,650.100,229.861)" font-size="100" stroke="#000" stroke-width="4.5">17”</text>
</svg></body></html>
